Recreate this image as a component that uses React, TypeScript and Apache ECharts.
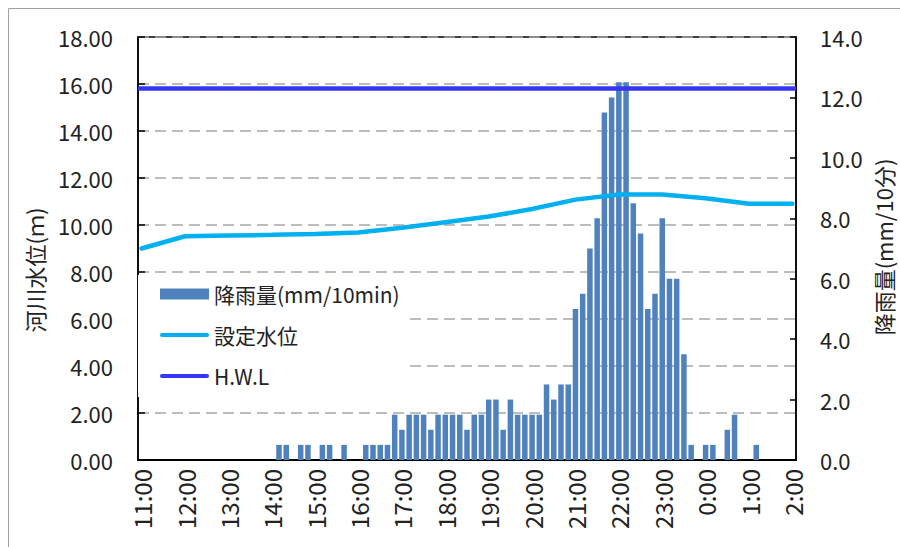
import React, { useEffect, useRef } from "react";
import * as echarts from "echarts";

// 10-minute categories, 11:00 to 2:00
const timeLabels = [
  "11:00", "11:10", "11:20", "11:30", "11:40", "11:50",
  "12:00", "12:10", "12:20", "12:30", "12:40", "12:50",
  "13:00", "13:10", "13:20", "13:30", "13:40", "13:50",
  "14:00", "14:10", "14:20", "14:30", "14:40", "14:50",
  "15:00", "15:10", "15:20", "15:30", "15:40", "15:50",
  "16:00", "16:10", "16:20", "16:30", "16:40", "16:50",
  "17:00", "17:10", "17:20", "17:30", "17:40", "17:50",
  "18:00", "18:10", "18:20", "18:30", "18:40", "18:50",
  "19:00", "19:10", "19:20", "19:30", "19:40", "19:50",
  "20:00", "20:10", "20:20", "20:30", "20:40", "20:50",
  "21:00", "21:10", "21:20", "21:30", "21:40", "21:50",
  "22:00", "22:10", "22:20", "22:30", "22:40", "22:50",
  "23:00", "23:10", "23:20", "23:30", "23:40", "23:50",
  "0:00", "0:10", "0:20", "0:30", "0:40", "0:50",
  "1:00", "1:10", "1:20", "1:30", "1:40", "1:50",
  "2:00",
];

// 降雨量 (mm/10min), one value per category
const rainfall = [
  0, 0, 0, 0, 0, 0,
  0, 0, 0, 0, 0, 0,
  0, 0, 0, 0, 0, 0,
  0, 0.5, 0.5, 0, 0.5, 0.5,
  0, 0.5, 0.5, 0, 0.5, 0,
  0, 0.5, 0.5, 0.5, 0.5, 1.5,
  1.0, 1.5, 1.5, 1.5, 1.0, 1.5,
  1.5, 1.5, 1.5, 1.0, 1.5, 1.5,
  2.0, 2.0, 1.0, 2.0, 1.5, 1.5,
  1.5, 1.5, 2.5, 2.0, 2.5, 2.5,
  5.0, 5.5, 7.0, 8.0, 11.5, 12.0,
  12.5, 12.5, 8.5, 7.5, 5.0, 5.5,
  8.0, 6.0, 6.0, 3.5, 0.5, 0,
  0.5, 0.5, 0, 1.0, 1.5, 0,
  0, 0.5, 0, 0, 0, 0,
  0,
];

// 設定水位 (m), hourly
const levelTimes = ["11:00", "12:00", "13:00", "14:00", "15:00", "16:00", "17:00", "18:00", "19:00", "20:00", "21:00", "22:00", "23:00", "0:00", "1:00", "2:00"];
const levelValues = [9.0, 9.52, 9.55, 9.58, 9.62, 9.68, 9.88, 10.12, 10.36, 10.68, 11.08, 11.3, 11.3, 11.14, 10.9, 10.9];

// H.W.L (m)
const hwlLevel = 15.8;

const seriesNames = ["降雨量(mm/10min)", "設定水位", "H.W.L"];
const leftAxisName = "河川水位(ｍ)";
const rightAxisName = "降雨量(mm/10分)";

const FONT = '"Noto Sans CJK JP", "Noto Sans", sans-serif';
const TEXT = "#222";
const LINE_ICON = "path://M2,0 H47 A2,2 0 0 1 47,4 H2 A2,2 0 0 1 2,0 Z";

export default function App() {
  const ref = useRef<HTMLDivElement>(null);

  useEffect(() => {
    if (!ref.current) return;
    const chart = echarts.init(ref.current, null, { renderer: "svg" });

    const levelData = levelTimes.map((t, i) => [timeLabels.indexOf(t), levelValues[i]]);

    chart.setOption({
      animation: false,
      backgroundColor: "#fff",
      textStyle: { fontFamily: FONT },
      graphic: [
        {
          type: "rect",
          shape: { x: 0.5, y: 0.5, width: 2000, height: 2000 },
          style: { fill: "none", stroke: "#a0a0a0", lineWidth: 1 },
          silent: true,
        },
        {
          type: "text",
          x: 26,
          y: 262,
          rotation: Math.PI / 2,
          style: {
            text: leftAxisName,
            align: "center",
            verticalAlign: "middle",
            fontFamily: FONT,
            fontSize: 22,
            fill: TEXT,
          },
          silent: true,
        },
        {
          type: "text",
          x: 875,
          y: 239,
          rotation: Math.PI / 2,
          style: {
            text: rightAxisName,
            align: "center",
            verticalAlign: "middle",
            fontFamily: FONT,
            fontSize: 22,
            fill: TEXT,
          },
          silent: true,
        },
      ],
      grid: {
        left: 130,
        top: 29,
        right: 104,
        bottom: 87,
        show: true,
        borderColor: "#000",
        borderWidth: 1.5,
      },
      legend: {
        left: 130,
        top: 267,
        orient: "vertical",
        backgroundColor: "#fff",
        padding: [8, 10, 10, 22],
        itemGap: 19,
        itemWidth: 49,
        itemHeight: 11,
        textStyle: { fontFamily: FONT, fontSize: 21, color: TEXT, lineHeight: 22 },
        data: [
          { name: seriesNames[0], icon: "rect" },
          { name: seriesNames[1], icon: LINE_ICON },
          { name: seriesNames[2], icon: LINE_ICON },
        ],
      },
      xAxis: {
        type: "category",
        data: timeLabels,
        boundaryGap: true,
        axisLine: { lineStyle: { color: "#000", width: 2 } },
        axisTick: { inside: true, length: 6, interval: 5, lineStyle: { color: "#000", width: 1.5 } },
        axisLabel: { interval: 5, rotate: 90, margin: 9, fontSize: 24, fontFamily: FONT, color: TEXT },
        splitLine: { show: false },
      },
      yAxis: [
        {
          type: "value",
          position: "left",
          min: 0,
          max: 18,
          interval: 2,
          axisLine: { show: true, lineStyle: { color: "#000", width: 1.5 } },
          axisTick: { show: true, inside: true, length: 7, lineStyle: { color: "#000", width: 1.5 } },
          axisLabel: { margin: 25, fontSize: 22, fontFamily: FONT, color: TEXT, formatter: (v: number) => v.toFixed(2) },
          splitLine: { show: true, lineStyle: { color: "#a6a6a6", width: 1.5, type: [11, 6] } },
        },
        {
          type: "value",
          position: "right",
          min: 0,
          max: 14,
          interval: 2,
          axisLine: { show: true, lineStyle: { color: "#000", width: 1.5 } },
          axisTick: { show: true, inside: true, length: 6, lineStyle: { color: "#000", width: 1.5 } },
          axisLabel: { margin: 24, fontSize: 22, fontFamily: FONT, color: TEXT, formatter: (v: number) => v.toFixed(1) },
          splitLine: { show: false },
        },
      ],
      series: [
        {
          name: seriesNames[0],
          type: "bar",
          yAxisIndex: 1,
          data: rainfall,
          barWidth: 5.5,
          itemStyle: { color: "#4f81bd" },
          z: 2,
        },
        {
          name: seriesNames[1],
          type: "line",
          yAxisIndex: 0,
          data: levelData,
          symbol: "none",
          lineStyle: { color: "#00b0f0", width: 4.5, cap: "round" },
          itemStyle: { color: "#00b0f0" },
          z: 4,
        },
        {
          name: seriesNames[2],
          type: "line",
          yAxisIndex: 0,
          data: [],
          symbol: "none",
          lineStyle: { color: "#3535f5", width: 4.5, cap: "round" },
          itemStyle: { color: "#3535f5" },
          markLine: {
            silent: true,
            symbol: ["none", "none"],
            label: { show: false },
            lineStyle: { color: "#3535f5", width: 4.5, type: "solid" },
            data: [{ yAxis: hwlLevel }],
          },
          z: 5,
        },
      ],
    });

    return () => chart.dispose();
  }, []);

  return (
    <div
      ref={ref}
      style={{ position: "absolute", left: 8, top: 8, width: 892, height: 539 }}
    />
  );
}
